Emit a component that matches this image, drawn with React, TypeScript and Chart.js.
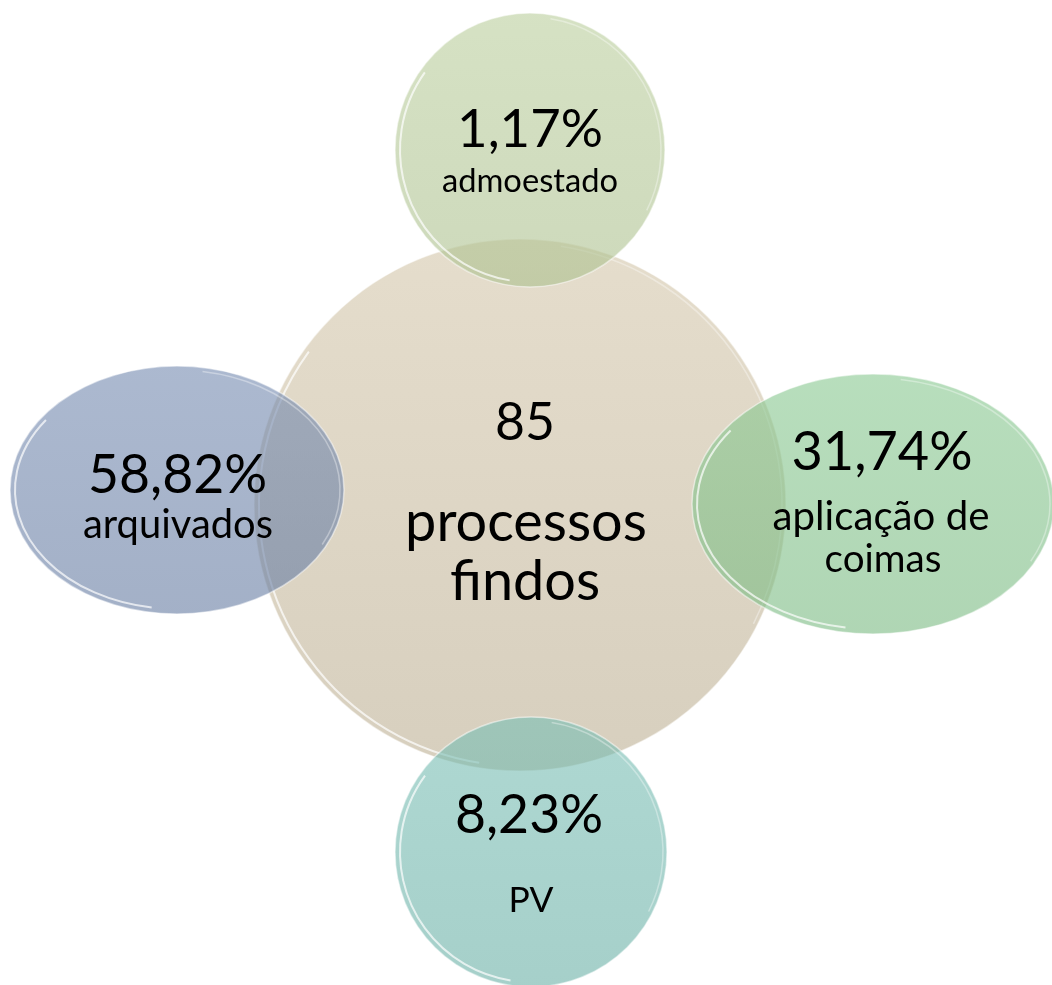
import React, { useEffect, useRef } from 'react';
import { Chart, registerables } from 'chart.js';

Chart.register(...registerables);

// ---------- data ----------
const TOTAL_PROCESSES = 85;
const CENTER_LINES = ['processos', 'findos'];
const OUTCOMES = ['arquivados', 'aplicação de coimas', 'admoestado', 'PV'];
const SHARES = [58.82, 31.74, 1.17, 8.23];
const OUTCOME_LINES = [['arquivados'], ['aplicação de', 'coimas'], ['admoestado'], ['PV']];

// ---------- layout (diagram units; node 0 = centre, then left, right, top, bottom) ----------
const NODE_X = [52.0, 17.7, 87.3, 53.0, 53.1];
const NODE_Y = [50.5, 49.0, 50.4, 15.0, 85.2];
const NODE_RX = [26.6, 16.7, 18.1, 13.5, 13.6];
const NODE_RY = [26.6, 12.4, 13.0, 13.7, 13.5];

// text lines: [dx, baseline dy, target width] in px relative to node centre
const TEXT_LAYOUT: number[][][] = [
  [[5, -65, 60], [6, 36, 242], [5, 95, 150]],
  [[0.5, 3, 179], [1, 48, 190]],
  [[9, -34, 181], [8, 26, 217], [10, 68, 117]],
  [[0, -3, 146], [0, 42, 176]],
  [[-2, -19, 148], [0, 60, 45]],
];

// ---------- style ----------
const NODE_COLORS: number[][] = [
  [221, 213, 196, 1],
  [108, 130, 168, 0.6],
  [128, 192, 136, 0.6],
  [178, 198, 148, 0.6],
  [112, 182, 172, 0.6],
];
const FONT_FAMILY = 'Lato, "Open Sans", "DejaVu Sans", sans-serif';

const fmtShare = (v: number) => v.toFixed(2).replace('.', ',') + '%';

function nodeLines(i: number): string[] {
  if (i === 0) return [String(TOTAL_PROCESSES), ...CENTER_LINES];
  const k = i - 1;
  return [fmtShare(SHARES[k]), ...OUTCOME_LINES[k]];
}

const clamp = (v: number) => Math.max(0, Math.min(255, Math.round(v)));

function drawBlob(ctx: CanvasRenderingContext2D, cx: number, cy: number, rx: number, ry: number, col: number[]) {
  const [r, g, b, a] = col;
  ctx.save();
  ctx.beginPath();
  ctx.ellipse(cx, cy, rx, ry, 0, 0, Math.PI * 2);
  const grad = ctx.createLinearGradient(cx, cy - ry, cx, cy + ry);
  grad.addColorStop(0, `rgba(${clamp(r + 8)},${clamp(g + 8)},${clamp(b + 8)},${a})`);
  grad.addColorStop(1, `rgba(${clamp(r - 6)},${clamp(g - 6)},${clamp(b - 6)},${a})`);
  ctx.fillStyle = grad;
  ctx.fill();
  ctx.lineWidth = 1.5;
  ctx.strokeStyle = 'rgba(255,255,255,0.5)';
  ctx.stroke();
  // glassy rim highlight (lower-left)
  ctx.beginPath();
  ctx.ellipse(cx, cy, Math.max(1, rx - 5), Math.max(1, ry - 5), 0, Math.PI * 0.55, Math.PI * 1.2);
  ctx.strokeStyle = 'rgba(255,255,255,0.7)';
  ctx.lineWidth = 2;
  ctx.stroke();
  // faint rim upper-right
  ctx.beginPath();
  ctx.ellipse(cx, cy, Math.max(1, rx - 4), Math.max(1, ry - 4), 0, Math.PI * 1.55, Math.PI * 2.15);
  ctx.strokeStyle = 'rgba(255,255,255,0.35)';
  ctx.lineWidth = 1.5;
  ctx.stroke();
  ctx.restore();
}

const vennPlugin = {
  id: 'vennShapes',
  afterDatasetsDraw(chart: any) {
    const ctx: CanvasRenderingContext2D = chart.ctx;
    const meta = chart.getDatasetMeta(0);
    const xs = chart.scales.x;
    const ys = chart.scales.y;
    const pts = chart.data.datasets[0].data as any[];
    const geo = meta.data.map((el: any, i: number) => ({
      x: el.x,
      y: el.y,
      rx: Math.abs(xs.getPixelForValue(pts[i].x + NODE_RX[i]) - el.x),
      ry: Math.abs(ys.getPixelForValue(pts[i].y + NODE_RY[i]) - el.y),
    }));
    geo.forEach((g: any, i: number) => drawBlob(ctx, g.x, g.y, g.rx, g.ry, NODE_COLORS[i]));
    ctx.save();
    ctx.fillStyle = '#000';
    ctx.textAlign = 'center';
    ctx.textBaseline = 'alphabetic';
    geo.forEach((g: any, i: number) => {
      const lines = nodeLines(i);
      lines.forEach((t, j) => {
        const [dx, dy, w] = TEXT_LAYOUT[i][j];
        ctx.font = `100px ${FONT_FAMILY}`;
        const mw = ctx.measureText(t).width;
        const size = (100 * w) / mw;
        ctx.font = `${size.toFixed(1)}px ${FONT_FAMILY}`;
        ctx.fillText(t, g.x + dx, g.y + dy);
      });
    });
    ctx.restore();
  },
};

export default function App() {
  const ref = useRef<HTMLCanvasElement | null>(null);
  useEffect(() => {
    document.body.style.margin = '0';
    if (!ref.current) return;
    const chart = new Chart(ref.current, {
      type: 'bubble',
      data: {
        labels: ['total', ...OUTCOMES],
        datasets: [
          {
            data: NODE_X.map((x, i) => ({ x, y: NODE_Y[i], r: 0 })),
            backgroundColor: 'rgba(0,0,0,0)',
            borderColor: 'rgba(0,0,0,0)',
            borderWidth: 0,
            hoverRadius: 0,
          },
        ],
      },
      options: {
        responsive: false,
        animation: false,
        events: [],
        layout: { padding: 0 },
        scales: {
          x: { type: 'linear', min: 0, max: 105.2, display: false },
          y: { type: 'linear', min: 0, max: 98.5, reverse: true, display: false },
        },
        plugins: { legend: { display: false }, tooltip: { enabled: false } },
      },
      plugins: [vennPlugin],
    });
    return () => chart.destroy();
  }, []);
  return (
    <div style={{ width: 1052, height: 985, background: '#fff' }}>
      <canvas ref={ref} width={1052} height={985} />
    </div>
  );
}
